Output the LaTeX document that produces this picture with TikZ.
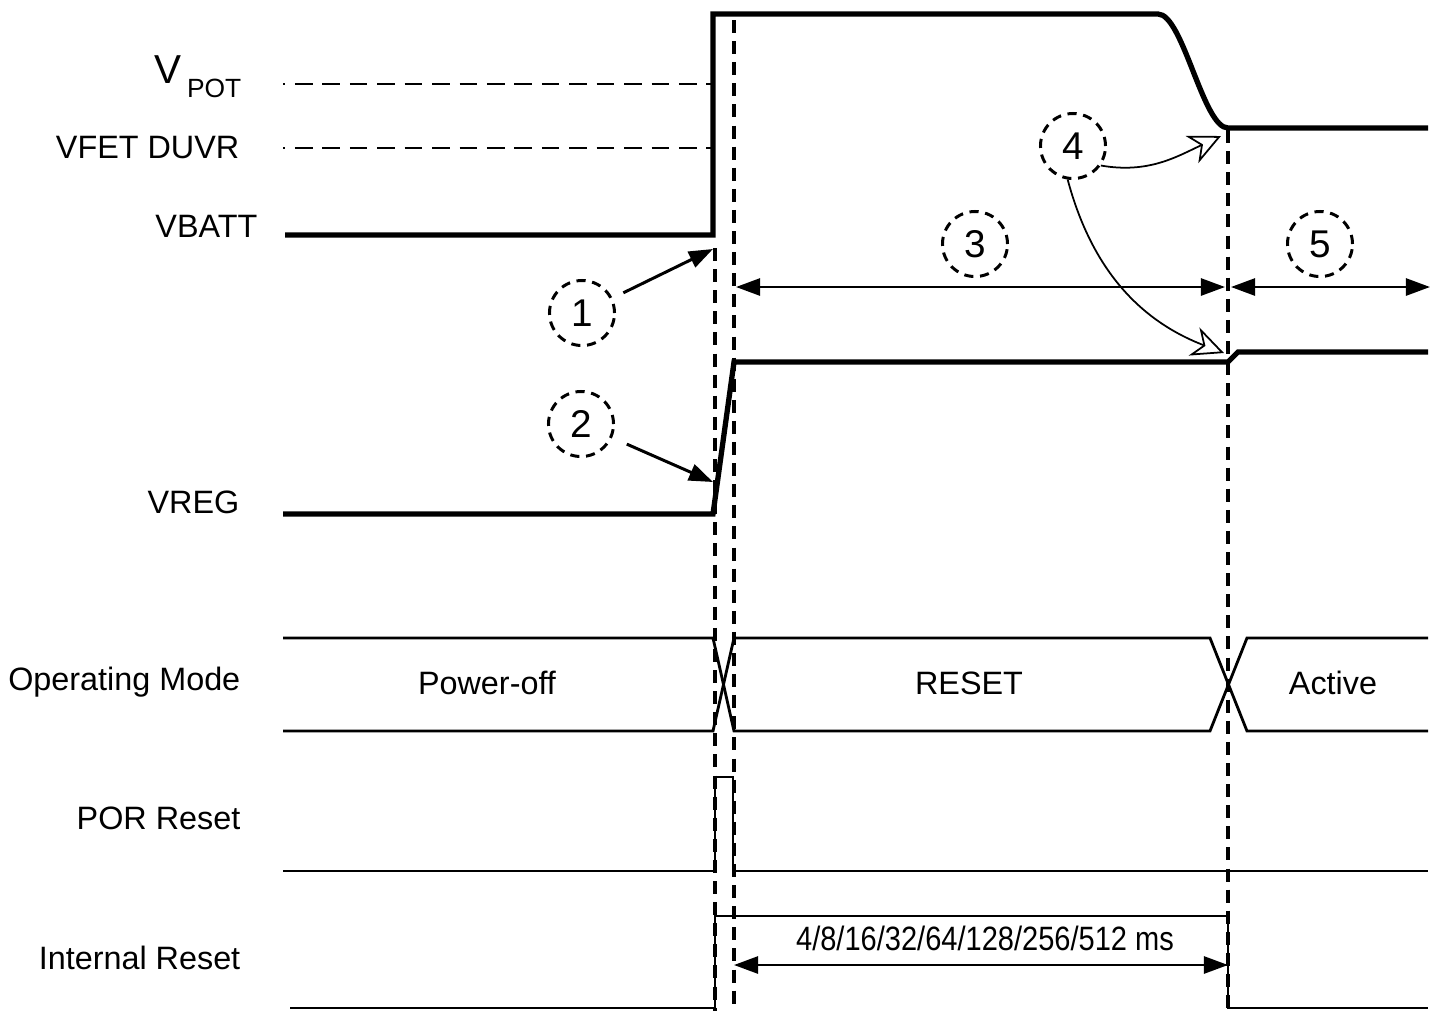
\documentclass[tikz,border=0pt]{standalone}
\usepackage{fontspec}
\setmainfont{Liberation Sans}
\usepackage{graphicx}
\usetikzlibrary{arrows.meta,positioning,calc}

\begin{document}
\begin{tikzpicture}[
  x=0.01cm,y=-0.01cm,
  font=\fontsize{9.2}{11}\selectfont,
  sig/.style={line width=1.5pt},
  bus/.style={line width=0.8pt},
  guide/.style={line width=1pt,dash pattern=on 3.7pt off 2.3pt},
  level/.style={line width=0.8pt,dash pattern=on 5pt off 2.8pt,dash phase=4.4pt},
  numcirc/.style={circle,draw,line width=0.85pt,dash pattern=on 2.6pt off 1.9pt,
                  minimum size=0.65cm,inner sep=0pt,font=\fontsize{11}{12}\selectfont},
  lbl/.style={anchor=base east},
  span/.style={line width=0.75pt,{Triangle[length=2.4mm,width=1.7mm]}-{Triangle[length=2.4mm,width=1.7mm]}},
  pointer/.style={line width=0.85pt,-{Triangle[length=2.4mm,width=1.7mm]}},
  hint/.style={line width=0.5pt,-{Stealth[open,length=3.2mm,width=3mm,inset=1mm]}}
]
  \useasboundingbox (0,0) rectangle (1444,1011);

  % signal names
  \node[lbl,inner sep=0pt] (vpot) at (242,83)
    {{\fontsize{11.5}{12}\selectfont V}\,\raisebox{-0.14cm}{\fontsize{7.5}{8}\selectfont POT}};
  \node[lbl,inner sep=0pt] (vfet) at (240,158) {VFET DUVR};
  \node[lbl,inner sep=0pt] (vbatt) at (258,237) {VBATT};
  \node[lbl,inner sep=0pt] (vreg) at (240,513) {VREG};
  \node[lbl,inner sep=0pt] (opmode) at (241,690) {Operating Mode};
  \node[lbl,inner sep=0pt] (por) at (241,829) {POR Reset};
  \node[lbl,inner sep=0pt] (intrst) at (241,969) {Internal Reset};

  % threshold levels
  \draw[level] (283,84) -- (713,84);
  \draw[level] (283,148) -- (713,148);

  % VBATT and VREG
  \draw[sig] (285,235) -- (713,235) -- (713,14) -- (1158,14)
    .. controls (1183,14) and (1203,128) .. (1228,128) -- (1428,128);
  \draw[sig] (283,514) -- (713,514) -- (734,362) -- (1228,362) -- (1238,352) -- (1428,352);

  % operating mode
  \draw[bus] (283,638) -- (713,638) -- (734,731) -- (1210,731) -- (1247,638) -- (1428,638);
  \draw[bus] (283,731) -- (713,731) -- (734,638) -- (1210,638) -- (1247,731) -- (1428,731);
  \node[anchor=base] (poff) at (487,694) {Power-off};
  \node[anchor=base] (rst) at (969,694) {RESET};
  \node[anchor=base] (act) at (1333,694) {Active};

  % POR and internal reset
  \draw[bus] (283,871) -- (715,871) -- (715,777) -- (733,777) -- (733,871) -- (1428,871);
  \draw[bus] (290,1008) -- (715,1008) -- (715,916) -- (1228,916) -- (1228,1008) -- (1428,1008);

  % time markers
  \draw[guide] (715,248) -- (715,1011);
  \draw[guide] (734,20) -- (734,1011);
  \draw[guide] (1228,130) -- (1228,1011);

  % callouts
  \node[numcirc] (c1) at (582,313) {1};
  \node[numcirc] (c2) at (581,424) {2};
  \node[numcirc] (c3) at (975,244) {3};
  \node[numcirc] (c4) at (1073,146) {4};
  \node[numcirc] (c5) at (1320,244) {5};

  \coordinate (t1) at (713,249);
  \coordinate (t2) at (713,482);
  \draw[pointer,shorten <=1.2mm] (c1) -- (t1);
  \draw[pointer,shorten <=1.6mm] (c2) -- (t2);

  \coordinate (a3l) at (734,287);
  \coordinate (a3r) at (1228,287);
  \coordinate (a5r) at (1430,287);
  \draw[span,shorten <=0.2mm,shorten >=0.3mm] (a3l) -- (a3r);
  \draw[span,shorten <=0.3mm] (a3r) -- (a5r);

  \coordinate (t4a) at (1221,136);
  \coordinate (t4b) at (1224,353);
  \draw[hint] (c4.-35) to[out=-10,in=205] (t4a);
  \draw[hint] (c4.-99) to[out=-75,in=159] (t4b);

  % reset delay
  \coordinate (d1) at (734,965);
  \coordinate (d2) at (1228,965);
  \draw[span] (d1) -- (d2);
  \node[anchor=base,inner sep=0pt] (delay) at (985,950)
    {\scalebox{0.86}[1]{\fontsize{9.6}{11}\selectfont 4/8/16/32/64/128/256/512 ms}};
\end{tikzpicture}
\end{document}
